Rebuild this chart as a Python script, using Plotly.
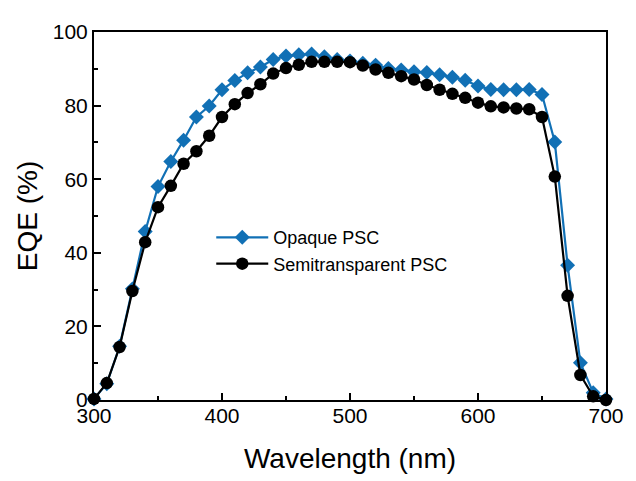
import plotly.graph_objects as go

wavelength = list(range(300, 701, 10))

opaque = [0.3, 4.4, 14.6, 30.2, 45.8, 58.0, 64.8, 70.6, 76.9, 79.9,
          84.3, 86.8, 88.9, 90.5, 92.5, 93.5, 93.8, 94.0, 93.3, 92.5,
          92.1, 91.5, 91.0, 90.1, 89.7, 89.2, 89.0, 88.4, 87.7, 86.9,
          85.3, 84.4, 84.3, 84.3, 84.4, 83.0, 70.1, 36.6, 10.1, 2.0, 0.3]

semitransparent = [0.3, 4.6, 14.4, 29.6, 42.9, 52.4, 58.2, 64.2, 67.6, 71.8,
                   76.9, 80.4, 83.4, 85.8, 88.7, 90.2, 91.1, 91.9, 91.9, 91.9,
                   91.8, 90.9, 89.8, 88.9, 88.0, 87.1, 85.6, 84.3, 83.2, 82.1,
                   80.8, 79.8, 79.5, 79.2, 79.0, 76.9, 60.7, 28.3, 6.8, 1.0, 0.0]

series_names = ["Opaque PSC", "Semitransparent PSC"]
x_ticks = [300, 400, 500, 600, 700]
y_ticks = [0, 20, 40, 60, 80, 100]

blue = "#1170b5"
FONT = "Liberation Sans, Arial, sans-serif"

fig = go.Figure()
fig.add_trace(go.Scatter(
    x=wavelength, y=opaque, name=series_names[0], mode="lines+markers",
    line=dict(color=blue, width=2.2),
    marker=dict(symbol="diamond", size=11.5, color=blue),
    cliponaxis=False,
))
fig.add_trace(go.Scatter(
    x=wavelength, y=semitransparent, name=series_names[1], mode="lines+markers",
    line=dict(color="black", width=2.2),
    marker=dict(symbol="circle", size=12.5, color="black"),
    cliponaxis=False,
))

axis_common = dict(
    showline=True, linecolor="black", linewidth=2, mirror=True,
    ticks="inside", ticklen=7, tickwidth=1.5, tickcolor="black",
    showgrid=False, zeroline=False,
    tickfont=dict(family=FONT, size=21, color="black"),
    minor=dict(ticks="inside", ticklen=4, tickwidth=1.5, tickcolor="black", showgrid=False),
)

# the page body has an 8px margin, so the figure is sized/positioned to compensate
fig.update_layout(
    width=628, height=473,
    margin=dict(l=86, r=23, t=15, b=78),
    paper_bgcolor="white", plot_bgcolor="white",
    font=dict(family=FONT, color="black"),
    showlegend=True,
    legend=dict(
        x=0.229, y=0.406, xanchor="left", yanchor="middle",
        bgcolor="rgba(0,0,0,0)", borderwidth=0,
        font=dict(family=FONT, size=18, color="black"),
        itemwidth=52, tracegroupgap=0,
    ),
)
fig.update_xaxes(
    range=[300, 700], tickvals=x_ticks,
    ticklabelstandoff=-4,
    title=dict(text="Wavelength (nm)", font=dict(family=FONT, size=28, color="black"), standoff=22),
    minor_dtick=50,
    **axis_common,
)
fig.update_yaxes(
    range=[0, 100], tickvals=y_ticks,
    title=dict(text="EQE (%)", font=dict(family=FONT, size=28, color="black"), standoff=7),
    minor_dtick=10,
    **axis_common,
)

fig.write_html("out.html")
